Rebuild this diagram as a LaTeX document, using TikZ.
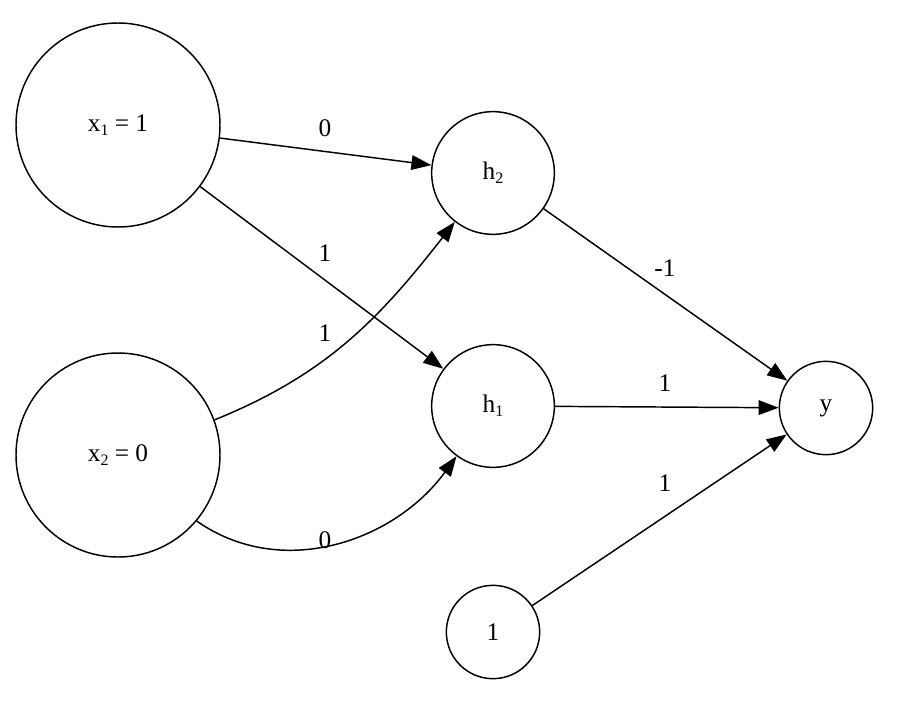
\documentclass[tikz,border=0pt]{standalone}
\usepackage{fontspec}
\setmainfont{Liberation Serif}
\usetikzlibrary{arrows.meta}
\newcommand{\sub}[1]{\raisebox{-0.35ex}{\fontsize{12pt}{12pt}\selectfont #1}}
\begin{document}
\begin{tikzpicture}[x=0.75pt,y=-0.75pt,
  nd/.style={circle,draw,line width=1.1pt,inner sep=0pt,font=\fontsize{19pt}{19pt}\selectfont},
  lb/.style={font=\fontsize{19pt}{19pt}\selectfont},
  ed/.style={line width=1.1pt,-{Triangle[length=15pt,width=11pt]}}]
\useasboundingbox (0,0) rectangle (920,724);
\node[nd,minimum size=204\pgflinewidth*0+153pt] (x1) at (118,125) {x\sub{1} = 1};
\node[nd,minimum size=153pt] (x2) at (118,455) {x\sub{2} = 0};
\node[nd,minimum size=92pt] (h2) at (493,173) {h\sub{2}};
\node[nd,minimum size=92pt] (h1) at (493,406) {h\sub{1}};
\node[nd,minimum size=70pt] (y) at (826,408) {y};
\node[nd,minimum size=70pt] (one) at (493,632) {1};
\draw[ed] (x1) -- (h2);
\draw[ed] (x1) -- (h1);
\draw[ed] (x2.20) to[out=22,in=232] (h2);
\draw[ed] (x2.-40) to[out=-35,in=234] (h1);
\draw[ed] (h2) -- (y);
\draw[ed] (h1) -- (y);
\draw[ed] (one) -- (y);
\node[lb] (l1) at (325,128) {0};
\node[lb] (l2) at (325,253) {1};
\node[lb] (l3) at (325,333) {1};
\node[lb] (l4) at (325,540) {0};
\node[lb] (l5) at (665,268) {-1};
\node[lb] (l6) at (665,383) {1};
\node[lb] (l7) at (665,483) {1};
\end{tikzpicture}
\end{document}
